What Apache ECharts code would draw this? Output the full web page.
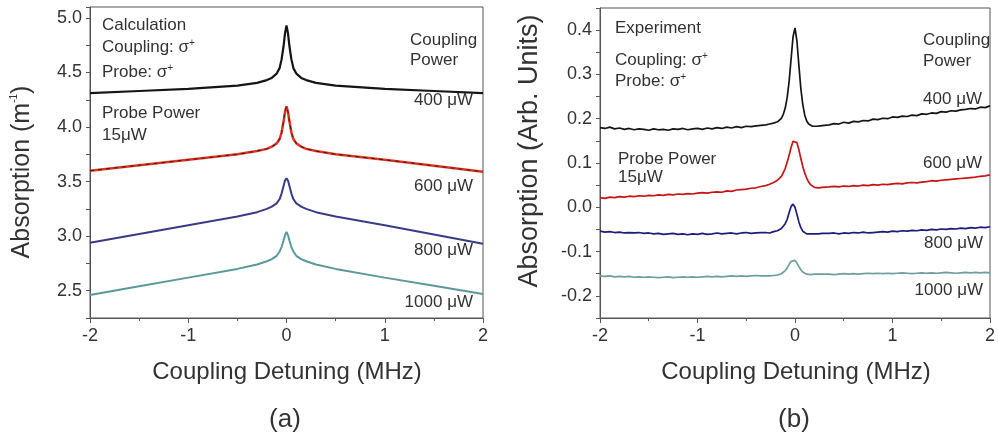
<!DOCTYPE html>
<html><head><meta charset="utf-8">
<script src="https://cdn.jsdelivr.net/npm/echarts@6/dist/echarts.min.js"></script>
<style>html,body{margin:0;padding:0;background:#fff}#c{width:998px;height:441px}</style>
</head><body><div id="c"></div><script>
// ---------- Data: panel (a) calculation ----------
const calcDetuning = [-2, -1.5, -1, -0.5, -0.3, -0.2, -0.15, -0.1, -0.07, -0.05, -0.03, -0.015, 0,
  0.015, 0.03, 0.05, 0.07, 0.1, 0.15, 0.2, 0.3, 0.5, 1, 1.5, 2];
const calc400 = [4.31, 4.33, 4.35, 4.38, 4.405, 4.43, 4.45, 4.49, 4.54, 4.62, 4.74, 4.86, 4.93,
  4.86, 4.74, 4.62, 4.54, 4.49, 4.45, 4.43, 4.405, 4.38, 4.35, 4.33, 4.31];
const calc600 = [3.60, 3.65, 3.70, 3.75, 3.78, 3.80, 3.82, 3.85, 3.89, 3.95, 4.05, 4.14, 4.19,
  4.14, 4.05, 3.95, 3.89, 3.85, 3.82, 3.80, 3.78, 3.75, 3.70, 3.645, 3.59];
const calc800 = [2.94, 3.02, 3.10, 3.18, 3.22, 3.25, 3.27, 3.30, 3.34, 3.39, 3.46, 3.51, 3.53,
  3.51, 3.46, 3.39, 3.34, 3.30, 3.27, 3.25, 3.22, 3.18, 3.10, 3.015, 2.93];
const calc1000 = [2.46, 2.54, 2.62, 2.70, 2.74, 2.77, 2.79, 2.82, 2.86, 2.90, 2.96, 3.01, 3.04,
  3.01, 2.96, 2.90, 2.86, 2.82, 2.79, 2.77, 2.74, 2.70, 2.62, 2.545, 2.47];

// ---------- Data: panel (b) experiment ----------
const expDetuning = [-2.00,-1.95,-1.90,-1.85,-1.80,-1.75,-1.70,-1.65,-1.60,-1.55,-1.50,-1.45,-1.40,-1.35,-1.30,-1.25,-1.20,-1.15,-1.10,-1.05,-1.00,-0.95,-0.90,-0.85,-0.80,-0.75,-0.70,-0.65,-0.60,-0.55,-0.50,-0.45,-0.40,-0.35,
  -0.30,-0.28,-0.26,-0.24,-0.22,-0.20,-0.18,-0.16,-0.14,-0.12,-0.10,-0.08,-0.06,-0.04,-0.02,0.00,0.02,0.04,0.06,0.08,0.10,0.12,0.14,0.16,0.18,0.20,0.22,0.24,0.26,0.28,0.30,
  0.35,0.40,0.45,0.50,0.55,0.60,0.65,0.70,0.75,0.80,0.85,0.90,0.95,1.00,1.05,1.10,1.15,1.20,1.25,1.30,1.35,1.40,1.45,1.50,1.55,1.60,1.65,1.70,1.75,1.80,1.85,1.90,1.95,2.00];
const exp400 = [0.180,0.178,0.181,0.177,0.179,0.176,0.178,0.175,0.177,0.176,0.174,0.177,0.175,0.176,0.174,0.177,0.176,0.178,0.175,0.177,0.178,0.176,0.179,0.177,0.180,0.178,0.181,0.179,0.182,0.180,0.183,0.182,0.184,0.185,
  0.186,0.185,0.188,0.187,0.190,0.191,0.193,0.196,0.201,0.210,0.224,0.248,0.285,0.335,0.385,0.405,0.375,0.320,0.268,0.232,0.208,0.195,0.188,0.184,0.183,0.184,0.183,0.185,0.184,0.186,0.185,
  0.186,0.189,0.188,0.192,0.190,0.194,0.193,0.196,0.195,0.199,0.198,0.201,0.200,0.204,0.203,0.206,0.205,0.208,0.207,0.211,0.210,0.213,0.212,0.216,0.215,0.218,0.217,0.220,0.221,0.223,0.222,0.226,0.225,0.229];
const exp600 = [0.022,0.020,0.023,0.022,0.024,0.023,0.025,0.024,0.026,0.025,0.027,0.026,0.028,0.027,0.029,0.028,0.030,0.029,0.031,0.030,0.032,0.033,0.032,0.034,0.035,0.034,0.037,0.036,0.039,0.040,0.041,0.043,0.044,0.047,
  0.049,0.050,0.052,0.054,0.056,0.058,0.061,0.065,0.070,0.078,0.088,0.102,0.118,0.135,0.149,0.152,0.146,0.130,0.110,0.092,0.077,0.066,0.057,0.051,0.047,0.045,0.044,0.044,0.045,0.045,0.046,
  0.046,0.047,0.046,0.048,0.047,0.049,0.048,0.050,0.049,0.051,0.050,0.052,0.051,0.053,0.054,0.053,0.055,0.056,0.055,0.057,0.058,0.060,0.059,0.061,0.062,0.063,0.064,0.065,0.066,0.067,0.068,0.070,0.071,0.073];
const exp800 = [-0.054,-0.056,-0.055,-0.057,-0.056,-0.058,-0.057,-0.058,-0.057,-0.059,-0.058,-0.060,-0.059,-0.061,-0.060,-0.059,-0.061,-0.060,-0.062,-0.060,-0.061,-0.059,-0.061,-0.060,-0.058,-0.060,-0.059,-0.058,-0.060,-0.058,-0.057,-0.059,-0.058,-0.057,
  -0.057,-0.056,-0.058,-0.056,-0.055,-0.054,-0.053,-0.051,-0.048,-0.044,-0.037,-0.027,-0.012,0.002,0.007,0.000,-0.016,-0.033,-0.046,-0.054,-0.058,-0.060,-0.061,-0.060,-0.061,-0.060,-0.059,-0.060,-0.058,-0.059,-0.058,
  -0.059,-0.058,-0.060,-0.058,-0.059,-0.057,-0.058,-0.056,-0.058,-0.057,-0.056,-0.055,-0.056,-0.054,-0.055,-0.053,-0.054,-0.052,-0.053,-0.051,-0.052,-0.050,-0.051,-0.049,-0.050,-0.048,-0.049,-0.047,-0.048,-0.046,-0.047,-0.045,-0.046,-0.044];
const exp1000 = [-0.155,-0.156,-0.155,-0.157,-0.156,-0.157,-0.156,-0.158,-0.157,-0.158,-0.157,-0.158,-0.159,-0.158,-0.157,-0.159,-0.158,-0.157,-0.158,-0.157,-0.158,-0.157,-0.156,-0.157,-0.156,-0.157,-0.156,-0.155,-0.156,-0.155,-0.156,-0.155,-0.154,-0.155,
  -0.155,-0.156,-0.155,-0.155,-0.154,-0.154,-0.153,-0.152,-0.150,-0.147,-0.143,-0.137,-0.129,-0.122,-0.118,-0.120,-0.126,-0.134,-0.141,-0.146,-0.149,-0.151,-0.152,-0.152,-0.152,-0.151,-0.152,-0.151,-0.152,-0.151,-0.151,
  -0.151,-0.152,-0.151,-0.150,-0.151,-0.150,-0.151,-0.150,-0.149,-0.150,-0.149,-0.150,-0.149,-0.150,-0.149,-0.148,-0.149,-0.150,-0.149,-0.148,-0.149,-0.148,-0.149,-0.148,-0.147,-0.148,-0.149,-0.148,-0.147,-0.148,-0.147,-0.148,-0.147,-0.148];

// ---------- Tick / label texts ----------
const xTickLabels = ['-2', '-1', '0', '1', '2'];
const powerLabels = ['400 μW', '600 μW', '800 μW', '1000 μW'];

// ---------- Chart ----------
const FONT = '"Liberation Sans", Arial, Helvetica, sans-serif';
const TXT = '#333';
const AX = '#555';
const pair = (xs, ys) => xs.map((x, i) => [x, ys[i]]);

function xAxisCfg(gi) {
  return {
    type: 'value', gridIndex: gi, min: -2, max: 2, interval: 1,
    axisLine: { show: true, onZero: false, lineStyle: { color: AX, width: 1 } },
    axisTick: { show: true, length: 5, lineStyle: { color: AX } },
    minorTick: { show: true, splitNumber: 2, length: 3, lineStyle: { color: AX } },
    splitLine: { show: false }, minorSplitLine: { show: false },
    axisLabel: { color: TXT, fontSize: 18, fontFamily: FONT, margin: 9,
      formatter: v => xTickLabels[Math.round(v) + 2] }
  };
}
function yAxisCfg(gi, min, max, interval) {
  return {
    type: 'value', gridIndex: gi, min: min, max: max, interval: interval,
    axisLine: { show: true, onZero: false, lineStyle: { color: AX, width: 1 } },
    axisTick: { show: true, length: 4, lineStyle: { color: AX } },
    splitLine: { show: false },
    axisLabel: { color: TXT, fontSize: 18, fontFamily: FONT, margin: 8, showMaxLabel: true,
      formatter: v => { const k = v * 10; return Math.abs(k - Math.round(k)) < 1e-6 && (gi === 1 || Math.round(k) % 5 === 0) ? v.toFixed(1) : ''; } }
  };
}
function line(gi, xs, ys, color, width, extra) {
  return Object.assign({
    type: 'line', xAxisIndex: gi, yAxisIndex: gi, data: pair(xs, ys), showSymbol: false, symbol: 'none',
    lineStyle: { color: color, width: width }, animation: false, silent: true, z: 3
  }, extra || {});
}
const rich = { sup: { fontSize: 10, fontFamily: FONT, fill: TXT, verticalAlign: 'top' } };
function txt(x, y, text, align, size, rot) {
  return {
    type: 'text', x: x, y: y, rotation: rot || 0, silent: true, z: 10,
    style: { text: text, fill: TXT, fontSize: size || 17, fontFamily: FONT,
      align: align || 'left', textAlign: align || 'left',
      verticalAlign: 'middle', textVerticalAlign: 'middle', rich: rich }
  };
}

const chart = echarts.init(document.getElementById('c'), null, { renderer: 'canvas' });
chart.setOption({
  backgroundColor: '#fff',
  animation: false,
  grid: [
    { left: 90, right: 515, top: 7, bottom: 123, show: true, borderColor: AX, borderWidth: 1, backgroundColor: 'transparent' },
    { left: 600, right: 6, top: 8, bottom: 123, show: true, borderColor: AX, borderWidth: 1, backgroundColor: 'transparent' }
  ],
  xAxis: [xAxisCfg(0), xAxisCfg(1)],
  yAxis: [yAxisCfg(0, 2.25, 5.1, 0.25), yAxisCfg(1, -0.25, 0.45, 0.05)],
  series: [
    line(0, calcDetuning, calc400, '#151515', 2.2),
    line(0, calcDetuning, calc600, '#e8321e', 2.5),
    line(0, calcDetuning, calc600, '#222', 1, { lineStyle: { color: '#222', width: 1, type: [4, 4] }, z: 4 }),
    line(0, calcDetuning, calc800, '#3a3a88', 2),
    line(0, calcDetuning, calc1000, '#5a989c', 2),
    line(1, expDetuning, exp400, '#151515', 1.7),
    line(1, expDetuning, exp600, '#c81414', 1.7),
    line(1, expDetuning, exp800, '#1c1c7c', 1.7),
    line(1, expDetuning, exp1000, '#6e9e9e', 1.7)
  ],
  graphic: [
    txt(102, 25, 'Calculation'),
    txt(102, 47, 'Coupling: σ{sup|+}'),
    txt(102, 72, 'Probe: σ{sup|+}'),
    txt(102, 113, 'Probe Power'),
    txt(102, 135, '15μW'),
    txt(410, 40, 'Coupling'),
    txt(410, 60, 'Power'),
    txt(473, 100, powerLabels[0], 'right'),
    txt(473, 186, powerLabels[1], 'right'),
    txt(473, 250, powerLabels[2], 'right'),
    txt(473, 302, powerLabels[3], 'right'),
    txt(615, 28, 'Experiment'),
    txt(615, 60, 'Coupling: σ{sup|+}'),
    txt(615, 81, 'Probe: σ{sup|+}'),
    txt(923, 40, 'Coupling'),
    txt(923, 61, 'Power'),
    txt(982, 99, powerLabels[0], 'right'),
    txt(982, 163, powerLabels[1], 'right'),
    txt(618, 159, 'Probe Power'),
    txt(618, 177, '15μW'),
    txt(983, 243, powerLabels[2], 'right'),
    txt(983, 290, powerLabels[3], 'right'),
    txt(287, 372, 'Coupling Detuning (MHz)', 'center', 24),
    txt(796, 372, 'Coupling Detuning (MHz)', 'center', 24),
    txt(22, 172, 'Absorption (m{sup|-1})', 'center', 25, Math.PI / 2),
    txt(530, 151, 'Absorption (Arb. Units)', 'center', 27, Math.PI / 2),
    txt(285, 420, '(a)', 'center', 26),
    txt(794, 420, '(b)', 'center', 26)
  ]
});
</script></body></html>
